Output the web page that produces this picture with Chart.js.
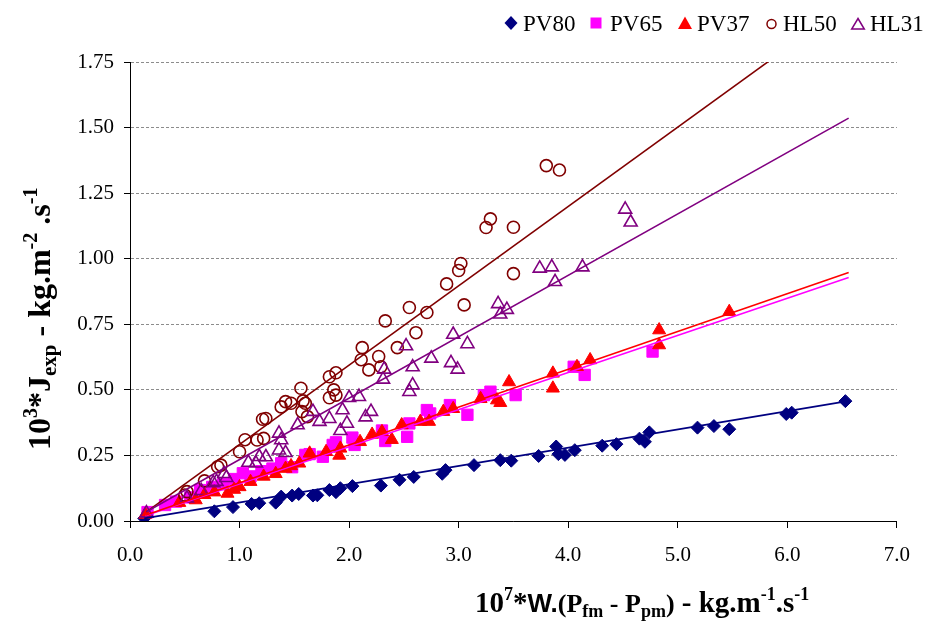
<!DOCTYPE html>
<html><head><meta charset="utf-8">
<script src="https://cdn.jsdelivr.net/npm/chart.js@4.4.1/dist/chart.umd.min.js"></script>
<style>html,body{margin:0;padding:0;background:#fff;}#wrap{width:925px;height:621px;position:relative;}</style>
</head><body><div id="wrap"><canvas id="c" width="925" height="621"></canvas></div>
<script>
const seriesNames = ['PV80','PV65','PV37','HL50','HL31'];
const xTicks = [0,1,2,3,4,5,6,7];
const yTicks = [0,0.25,0.5,0.75,1.0,1.25,1.5,1.75];

const pv80X = [0.13,0.77,0.94,1.11,1.18,1.33,1.38,1.48,1.54,1.67,1.71,1.82,1.88,1.92,2.03,2.29,2.46,2.59,2.85,2.88,3.14,3.38,3.48,3.73,3.89,3.91,3.97,4.06,4.31,4.44,4.65,4.70,4.74,5.18,5.33,5.47,5.99,6.04,6.53];
const pv80Y = [0.01,0.037,0.053,0.065,0.068,0.07,0.093,0.097,0.103,0.097,0.098,0.118,0.11,0.125,0.133,0.135,0.157,0.168,0.18,0.194,0.213,0.232,0.23,0.248,0.284,0.255,0.252,0.27,0.287,0.293,0.314,0.302,0.338,0.356,0.362,0.35,0.408,0.413,0.457];

const pv65X = [0.16,0.32,0.42,0.55,0.64,0.75,0.85,0.95,1.03,1.1,1.2,1.3,1.38,1.48,1.6,1.64,1.76,1.85,1.88,2.03,2.05,2.3,2.33,2.53,2.55,2.71,2.74,2.92,3.08,3.23,3.29,3.52,4.05,4.15,4.77];
const pv65Y = [0.034,0.061,0.074,0.09,0.118,0.13,0.14,0.16,0.182,0.17,0.19,0.2,0.22,0.205,0.252,0.255,0.245,0.29,0.3,0.318,0.29,0.345,0.305,0.321,0.372,0.423,0.41,0.442,0.405,0.48,0.493,0.48,0.588,0.557,0.646];

const pv37X = [0.14,0.45,0.6,0.68,0.77,0.89,0.95,1.0,1.1,1.22,1.33,1.42,1.47,1.545,1.64,1.79,1.91,1.92,2.1,2.21,2.3,2.39,2.48,2.65,2.73,2.86,2.95,3.2,3.35,3.38,3.46,3.86,3.86,4.08,4.2,4.83,4.83,5.47];
const pv37Y = [0.025,0.07,0.08,0.1,0.11,0.105,0.12,0.13,0.15,0.17,0.18,0.2,0.21,0.22,0.258,0.264,0.25,0.277,0.302,0.33,0.34,0.31,0.366,0.379,0.379,0.417,0.428,0.466,0.461,0.451,0.53,0.563,0.506,0.588,0.614,0.728,0.671,0.798];

const hl50X = [0.5,0.52,0.68,0.8,0.83,1.0,1.05,1.16,1.22,1.21,1.24,1.38,1.42,1.47,1.56,1.58,1.6,1.57,1.62,1.82,1.88,1.82,1.86,1.88,2.11,2.12,2.18,2.27,2.29,2.33,2.44,2.55,2.61,2.71,2.89,3.0,3.02,3.05,3.25,3.29,3.5,3.5,3.80,3.92];
const hl50Y = [0.099,0.112,0.153,0.207,0.213,0.264,0.31,0.309,0.315,0.388,0.391,0.435,0.455,0.449,0.506,0.458,0.449,0.417,0.398,0.55,0.565,0.47,0.5,0.48,0.615,0.661,0.576,0.627,0.588,0.763,0.661,0.814,0.718,0.795,0.904,0.955,0.982,0.824,1.119,1.152,1.12,0.943,1.355,1.338];

const hl31X = [0.15,0.52,0.65,0.76,0.79,0.86,0.88,1.08,1.15,1.18,1.24,1.36,1.38,1.36,1.42,1.53,1.67,1.73,1.82,1.92,1.94,1.98,2.0,2.09,2.15,2.2,2.31,2.32,2.52,2.55,2.58,2.58,2.75,2.93,2.95,2.99,3.08,3.36,3.38,3.44,3.74,3.85,3.88,4.13,4.52,4.57];
const hl31Y = [0.03,0.087,0.115,0.145,0.15,0.18,0.165,0.223,0.22,0.245,0.244,0.334,0.309,0.27,0.26,0.366,0.417,0.379,0.39,0.344,0.423,0.372,0.47,0.474,0.396,0.417,0.54,0.578,0.667,0.493,0.518,0.587,0.62,0.603,0.711,0.578,0.675,0.828,0.788,0.806,0.963,0.968,0.912,0.968,1.188,1.139];

// trend line end points
const trendPV80X = [0.13, 6.55], trendPV80Y = [0.01, 0.457];
const trendPV65X = [0.14, 6.56], trendPV65Y = [0.02, 0.928];
const trendPV37X = [0.14, 6.56], trendPV37Y = [0.022, 0.947];
const trendHL50X = [0.15, 5.95], trendHL50Y = [0.035, 1.789];
const trendHL31X = [0.15, 6.56], trendHL31Y = [0.035, 1.536];

const colors = ['#000080','#FF00FF','#FF0000','#800000','#800080'];

function pts(xs, ys){ return xs.map((x,i)=>({x:x, y:ys[i]})); }

const SERIF = '"Liberation Serif", "Times New Roman", serif';
Chart.defaults.font.family = SERIF;

function scatterDs(label, xs, ys, color, style, radius, filled, order){
  return {label, data: pts(xs,ys), pointStyle: style, pointRadius: radius, pointHoverRadius: radius,
    backgroundColor: filled ? color : 'rgba(0,0,0,0)', borderColor: color,
    borderWidth: filled ? 1 : 1.6, showLine:false, order};
}
function lineDs(label, xs, ys, color, order){
  return {label, data: pts(xs,ys), showLine:true, pointRadius:0, borderColor:color, borderWidth:1.6,
    backgroundColor:color, fill:false, order};
}

const legendPlugin = {
  id:'customLegend',
  afterDraw(chart){
    const ctx = chart.ctx;
    ctx.save();
    const items = [
      {cx:511, cy:23, tx:523, shape:'diamond'},
      {cx:596, cy:23, tx:610, shape:'square'},
      {cx:685, cy:23, tx:697, shape:'tri'},
      {cx:771.5, cy:24, tx:783, shape:'circle'},
      {cx:858, cy:24, tx:870, shape:'otri'}
    ];
    items.forEach((it,i)=>{
      const c = colors[i];
      ctx.beginPath();
      ctx.fillStyle = c; ctx.strokeStyle = c; ctx.lineWidth = 1.5;
      if (it.shape==='diamond'){ ctx.moveTo(it.cx,it.cy-7); ctx.lineTo(it.cx+6.5,it.cy); ctx.lineTo(it.cx,it.cy+7); ctx.lineTo(it.cx-6.5,it.cy); ctx.closePath(); ctx.fill(); }
      else if (it.shape==='square'){ ctx.rect(it.cx-5.5,it.cy-5.5,11,11); ctx.fill(); }
      else if (it.shape==='tri'){ ctx.moveTo(it.cx,it.cy-6.5); ctx.lineTo(it.cx+7,it.cy+6); ctx.lineTo(it.cx-7,it.cy+6); ctx.closePath(); ctx.fill(); }
      else if (it.shape==='circle'){ ctx.arc(it.cx,it.cy,4.5,0,Math.PI*2); ctx.stroke(); }
      else { ctx.moveTo(it.cx,it.cy-5.5); ctx.lineTo(it.cx+6.3,it.cy+5); ctx.lineTo(it.cx-6.3,it.cy+5); ctx.closePath(); ctx.stroke(); }
      ctx.fillStyle = '#000';
      ctx.font = '23px ' + SERIF;
      ctx.textBaseline = 'alphabetic';
      ctx.textAlign = 'left';
      ctx.fillText(seriesNames[i], it.tx, 31);
    });
    ctx.restore();
  }
};

function drawRich(ctx, segs, x, y){
  let cx = x;
  for (const s of segs){
    ctx.font = s.f;
    ctx.fillText(s.t, cx, y + (s.dy||0));
    cx += ctx.measureText(s.t).width;
  }
  return cx - x;
}

const titlePlugin = {
  id:'axisTitles',
  afterDraw(chart){
    const ctx = chart.ctx;
    ctx.save();
    ctx.fillStyle = '#000';
    ctx.textBaseline = 'alphabetic';
    ctx.textAlign = 'left';
    const B = (n)=>'bold ' + n + 'px ' + SERIF;
    const BS = (n)=>'bold ' + n + 'px "Liberation Sans", Arial, sans-serif';
    // x title
    drawRich(ctx, [
      {t:'10', f:B(29)}, {t:'7', f:B(18), dy:-12}, {t:'*', f:B(29)}, {t:'W.', f:BS(26)},
      {t:'(P', f:B(26)}, {t:'fm', f:B(18), dy:5}, {t:' - P', f:B(26)}, {t:'pm', f:B(18), dy:5},
      {t:')', f:B(26)}, {t:' - kg.m', f:B(29)}, {t:'-1', f:B(18), dy:-12}, {t:'.s', f:B(29)}, {t:'-1', f:B(18), dy:-12}
    ], 475, 612);
    // y title
    ctx.translate(50, 450);
    ctx.rotate(-Math.PI/2);
    drawRich(ctx, [
      {t:'10', f:B(32)}, {t:'3', f:B(20), dy:-13}, {t:'*J', f:B(32)}, {t:'exp', f:B(21), dy:6},
      {t:' - kg.m', f:B(32)}, {t:'-2', f:B(20), dy:-13}, {t:' .s', f:B(32)}, {t:'-1', f:B(20), dy:-13}
    ], 0, 0);
    ctx.restore();
  }
};

new Chart(document.getElementById('c'), {
  type:'scatter',
  data:{datasets:[
    scatterDs(seriesNames[0], pv80X, pv80Y, colors[0], 'rectRot', 6.5, true, 10),
    scatterDs(seriesNames[1], pv65X, pv65Y, colors[1], 'rect', 8, true, 9),
    scatterDs(seriesNames[2], pv37X, pv37Y, colors[2], 'triangle', 7.5, true, 8),
    scatterDs(seriesNames[3], hl50X, hl50Y, colors[3], 'circle', 6, false, 7),
    scatterDs(seriesNames[4], hl31X, hl31Y, colors[4], 'triangle', 7.5, false, 6),
    lineDs('t0', trendPV80X, trendPV80Y, colors[0], 5),
    lineDs('t1', trendPV65X, trendPV65Y, colors[1], 4),
    lineDs('t2', trendPV37X, trendPV37Y, colors[2], 3),
    lineDs('t3', trendHL50X, trendHL50Y, colors[3], 2),
    lineDs('t4', trendHL31X, trendHL31Y, colors[4], 1)
  ]},
  options:{
    responsive:false, animation:false, devicePixelRatio:1,
    layout:{padding:{left:0, right:25, top:62, bottom:0}},
    plugins:{legend:{display:false}, tooltip:{enabled:false}},
    scales:{
      x:{type:'linear', min:xTicks[0], max:xTicks[xTicks.length-1],
        afterBuildTicks(s){ s.ticks = xTicks.map(v=>({value:v})); },
        ticks:{callback:v=>Number(v).toFixed(1), font:{size:21}, color:'#000', padding:15, maxRotation:0, autoSkip:false},
        grid:{display:true, drawOnChartArea:false, drawTicks:true, tickLength:7, color:'#000', tickColor:'#000', lineWidth:1},
        border:{display:true, color:'#000', width:1},
        afterFit(s){ s.height = 100; }
      },
      y:{type:'linear', min:yTicks[0], max:yTicks[yTicks.length-1],
        afterBuildTicks(s){ s.ticks = yTicks.map(v=>({value:v})); },
        ticks:{callback:v=>Number(v).toFixed(2), font:{size:21}, color:'#000', padding:10, autoSkip:false},
        grid:{display:true, drawOnChartArea:true, drawTicks:true, tickLength:6, color:'#8c8c8c', tickColor:'#000', lineWidth:1, tickBorderDash:[]},
        border:{display:true, color:'#000', width:1, dash:[3,2]},
        afterFit(s){ s.width = 130; }
      }
    }
  },
  plugins:[legendPlugin, titlePlugin]
});
</script></body></html>
